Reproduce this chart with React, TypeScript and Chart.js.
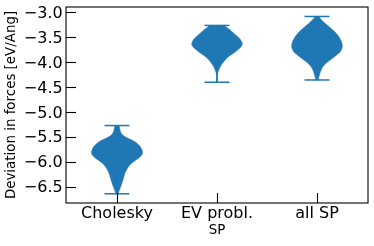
import React, { useEffect, useRef } from "react";
import { Chart, registerables } from "chart.js";

Chart.register(...registerables);

// ---- data ----
const categories = ["Cholesky", "EV probl.", "all SP"];
const positions = [1, 2, 3];
const yTicks = [-3.0, -3.5, -4.0, -4.5, -5.0, -5.5, -6.0, -6.5];
const yTitle = "Deviation in forces [eV/Ang]";
const xTitle = "SP";

// violin density profiles: sampled values (max -> min) and relative half-widths
const choleskyValues = [-5.27, -5.31, -5.38, -5.45, -5.51, -5.58, -5.68, -5.78, -5.85, -5.92, -6.02, -6.12, -6.22, -6.32, -6.42, -6.52, -6.6, -6.64];
const choleskyWidths = [0.08, 0.1, 0.13, 0.2, 0.37, 0.66, 0.9, 1.0, 0.99, 0.86, 0.59, 0.42, 0.32, 0.26, 0.2, 0.13, 0.07, 0.04];
const evValues = [-3.26, -3.29, -3.35, -3.42, -3.52, -3.62, -3.69, -3.79, -3.89, -3.99, -4.09, -4.16, -4.22, -4.3, -4.4];
const evWidths = [0.3, 0.36, 0.52, 0.67, 0.89, 1.0, 0.95, 0.73, 0.45, 0.26, 0.13, 0.07, 0.03, 0.015, 0.01];
const allSpValues = [-3.08, -3.12, -3.19, -3.29, -3.39, -3.49, -3.59, -3.69, -3.79, -3.89, -3.99, -4.09, -4.2, -4.3, -4.355];
const allSpWidths = [0.08, 0.13, 0.26, 0.49, 0.71, 0.87, 0.97, 1.0, 0.92, 0.69, 0.43, 0.23, 0.13, 0.07, 0.04];

const BLUE = "#1f77b4";
const FONT = "DejaVu Sans";

const framePlugin = {
  id: "mplFrame",
  afterDatasetsDraw(chart: any) {
    const { ctx, chartArea: a, scales } = chart;
    ctx.save();
    ctx.strokeStyle = "#000";
    ctx.lineWidth = 1.1;
    const tl = 10;
    scales.y.ticks.forEach((t: any) => {
      const py = Math.round(scales.y.getPixelForValue(t.value)) + 0.5;
      ctx.beginPath();
      ctx.moveTo(a.left, py);
      ctx.lineTo(a.left + tl, py);
      ctx.stroke();
    });
    scales.x.ticks.forEach((t: any) => {
      const px = Math.round(scales.x.getPixelForValue(t.value)) + 0.5;
      ctx.beginPath();
      ctx.moveTo(px, a.bottom);
      ctx.lineTo(px, a.bottom - tl);
      ctx.stroke();
    });
    ctx.strokeRect(a.left, a.top, a.right - a.left, a.bottom - a.top);
    ctx.restore();
  },
};

export default function App() {
  const ref = useRef<HTMLCanvasElement>(null);

  useEffect(() => {
    const canvas = ref.current;
    if (!canvas) return;
    const violins = [
      { pos: positions[0], values: choleskyValues, widths: choleskyWidths },
      { pos: positions[1], values: evValues, widths: evWidths },
      { pos: positions[2], values: allSpValues, widths: allSpWidths },
    ];
    const BODY = 0.253;
    const CAP = 0.125;
    const datasets: any[] = [];
    violins.forEach((v) => {
      const right = v.values.map((y, i) => ({ x: v.pos + v.widths[i] * BODY, y }));
      const left = v.values.map((y, i) => ({ x: v.pos - v.widths[i] * BODY, y })).reverse();
      datasets.push({
        data: [...right, ...left],
        showLine: true,
        fill: "shape",
        backgroundColor: BLUE,
        borderColor: BLUE,
        borderWidth: 0.5,
        pointRadius: 0,
        tension: 0.3,
        order: 2,
      });
      const top = v.values[0];
      const bot = v.values[v.values.length - 1];
      const segs = [
        [{ x: v.pos - CAP, y: top }, { x: v.pos + CAP, y: top }],
        [{ x: v.pos - CAP, y: bot }, { x: v.pos + CAP, y: bot }],
        [{ x: v.pos, y: top }, { x: v.pos, y: bot }],
      ];
      segs.forEach((s) =>
        datasets.push({
          data: s,
          showLine: true,
          fill: false,
          borderColor: BLUE,
          borderWidth: 1.5,
          pointRadius: 0,
          order: 1,
        })
      );
    });

    const chart = new Chart(canvas, {
      type: "scatter",
      data: { datasets },
      plugins: [framePlugin],
      options: {
        animation: false,
        responsive: false,
        events: [],
        layout: { padding: { top: 7, right: 6, left: 0, bottom: 0 } },
        plugins: { legend: { display: false }, tooltip: { enabled: false } },
        scales: {
          x: {
            type: "linear",
            min: 0.49,
            max: 3.51,
            grid: { display: false, drawTicks: false },
            border: { display: false },
            afterFit: (s: any) => {
              s.height = 43;
              s.paddingLeft = 0;
              s.paddingRight = 0;
            },
            afterBuildTicks: (s: any) => {
              s.ticks = positions.map((p) => ({ value: p }));
            },
            ticks: {
              autoSkip: false,
              maxRotation: 0,
              padding: 1.6,
              color: "#000",
              font: { family: FONT, size: 16 },
              callback: (val: any) => categories[positions.indexOf(Number(val))] ?? "",
            },
            title: {
              display: true,
              text: xTitle,
              color: "#000",
              font: { family: FONT, size: 13.4 },
              padding: { top: 0, bottom: 7.6 },
            },
          },
          y: {
            type: "linear",
            min: -6.825,
            max: -2.89,
            grid: { display: false, drawTicks: false },
            border: { display: false },
            afterFit: (s: any) => {
              s.width = 66;
              s.paddingTop = 0;
              s.paddingBottom = 0;
            },
            afterBuildTicks: (s: any) => {
              s.ticks = yTicks.map((v) => ({ value: v }));
            },
            ticks: {
              autoSkip: false,
              padding: 3.3,
              labelOffset: 1.3,
              color: "#000",
              font: { family: FONT, size: 16 },
              callback: (val: any) => {
                const n = Number(val);
                return (n < 0 ? "\u2212" : "") + Math.abs(n).toFixed(1);
              },
            },
            title: {
              display: true,
              text: yTitle,
              color: "#000",
              font: { family: FONT, size: 13.4 },
              padding: { top: 3.9, bottom: 0 },
            },
          },
        },
      } as any,
    });
    return () => chart.destroy();
  }, []);

  return (
    <div style={{ position: "absolute", left: 0, top: 0, width: 374, height: 246, background: "#fff" }}>
      <canvas ref={ref} width={374} height={246} style={{ display: "block", width: 374, height: 246 }} />
    </div>
  );
}
